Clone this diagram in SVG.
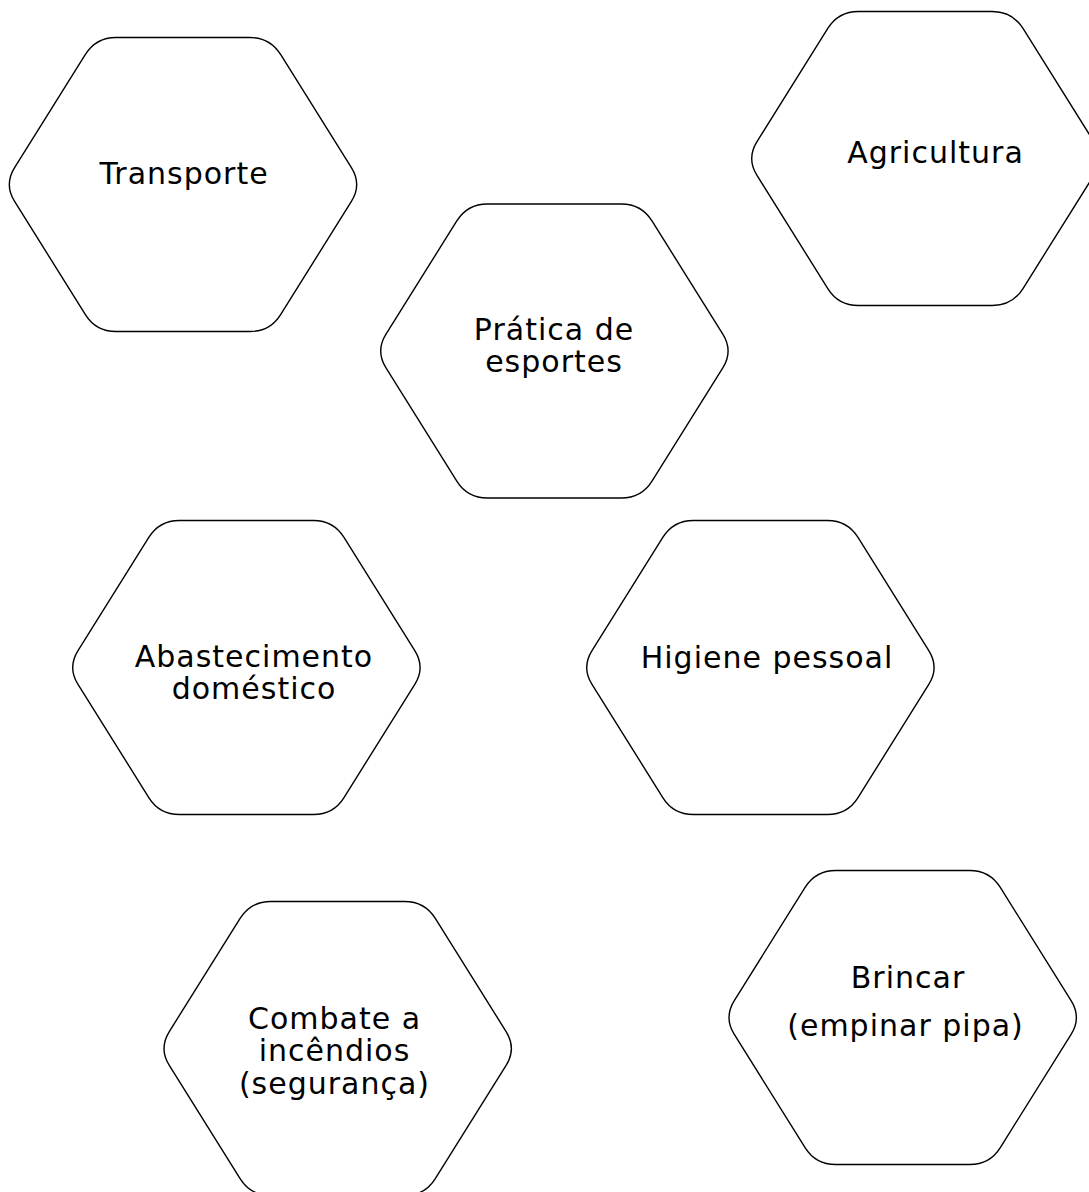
<svg xmlns="http://www.w3.org/2000/svg" width="1089" height="1192" viewBox="0 0 1089 1192">
  <style>
    .hex { fill: #ffffff; stroke: #000000; stroke-width: 1.4; stroke-linejoin: round; }
    .lbl { font-family: "DejaVu Sans", "Liberation Sans", sans-serif; font-size: 30px; letter-spacing: 1px; fill: #000000; text-anchor: middle; }
  </style>
  <rect width="1089" height="1192" fill="#ffffff"/>
  <g id="connectors"></g>
  <g id="node-transporte">
    <path class="hex" transform="translate(4,37.5)" d="M112,0 L246,0 Q266,0 276.6,16.95 L347.4,130.05 Q358,147 347.4,163.95 L276.6,277.05 Q266,294 246,294 L112,294 Q92,294 81.4,277.05 L10.6,163.95 Q0,147 10.6,130.05 L81.4,16.95 Q92,0 112,0 Z"/>
    <text class="lbl" x="184" y="184">Transporte</text>
  </g>
  <g id="node-agricultura">
    <path class="hex" transform="translate(746.4,11.5)" d="M112,0 L246,0 Q266,0 276.6,16.95 L347.4,130.05 Q358,147 347.4,163.95 L276.6,277.05 Q266,294 246,294 L112,294 Q92,294 81.4,277.05 L10.6,163.95 Q0,147 10.6,130.05 L81.4,16.95 Q92,0 112,0 Z"/>
    <text class="lbl" x="935.5" y="163">Agricultura</text>
  </g>
  <g id="node-pratica">
    <path class="hex" transform="translate(375.4,204)" d="M112,0 L246,0 Q266,0 276.6,16.95 L347.4,130.05 Q358,147 347.4,163.95 L276.6,277.05 Q266,294 246,294 L112,294 Q92,294 81.4,277.05 L10.6,163.95 Q0,147 10.6,130.05 L81.4,16.95 Q92,0 112,0 Z"/>
    <text class="lbl" x="554" y="340">Prática de</text>
    <text class="lbl" x="554" y="372">esportes</text>
  </g>
  <g id="node-abastecimento">
    <path class="hex" transform="translate(67.4,520.5)" d="M112,0 L246,0 Q266,0 276.6,16.95 L347.4,130.05 Q358,147 347.4,163.95 L276.6,277.05 Q266,294 246,294 L112,294 Q92,294 81.4,277.05 L10.6,163.95 Q0,147 10.6,130.05 L81.4,16.95 Q92,0 112,0 Z"/>
    <text class="lbl" x="254" y="667">Abastecimento</text>
    <text class="lbl" x="254" y="699">doméstico</text>
  </g>
  <g id="node-higiene">
    <path class="hex" transform="translate(581.4,520.5)" d="M112,0 L246,0 Q266,0 276.6,16.95 L347.4,130.05 Q358,147 347.4,163.95 L276.6,277.05 Q266,294 246,294 L112,294 Q92,294 81.4,277.05 L10.6,163.95 Q0,147 10.6,130.05 L81.4,16.95 Q92,0 112,0 Z"/>
    <text class="lbl" x="767" y="668">Higiene pessoal</text>
  </g>
  <g id="node-combate">
    <path class="hex" transform="translate(158.7,901.5)" d="M112,0 L246,0 Q266,0 276.6,16.95 L347.4,130.05 Q358,147 347.4,163.95 L276.6,277.05 Q266,294 246,294 L112,294 Q92,294 81.4,277.05 L10.6,163.95 Q0,147 10.6,130.05 L81.4,16.95 Q92,0 112,0 Z"/>
    <text class="lbl" x="334.5" y="1028.5">Combate a</text>
    <text class="lbl" x="334.5" y="1061">incêndios</text>
    <text class="lbl" x="334.5" y="1093.5">(segurança)</text>
  </g>
  <g id="node-brincar">
    <path class="hex" transform="translate(723.7,870.5)" d="M112,0 L246,0 Q266,0 276.6,16.95 L347.4,130.05 Q358,147 347.4,163.95 L276.6,277.05 Q266,294 246,294 L112,294 Q92,294 81.4,277.05 L10.6,163.95 Q0,147 10.6,130.05 L81.4,16.95 Q92,0 112,0 Z"/>
    <text class="lbl" x="908" y="988">Brincar</text>
    <text class="lbl" x="905.5" y="1035.5">(empinar pipa)</text>
  </g>
</svg>
